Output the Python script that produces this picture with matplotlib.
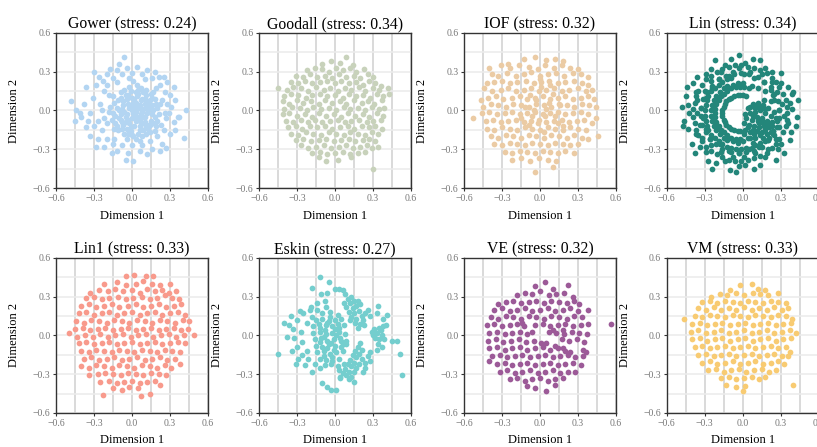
import numpy as np
import matplotlib.pyplot as plt

plt.rcParams['font.family'] = ['Liberation Serif', 'DejaVu Serif']

methods = ['Gower', 'Goodall', 'IOF', 'Lin', 'Lin1', 'Eskin', 'VE', 'VM']
stress = [0.24, 0.34, 0.32, 0.34, 0.33, 0.27, 0.32, 0.33]
colors = ['#b3d5f2', '#c8d2bb', '#ebcba4', '#23867a',
          '#f89a8c', '#74cece', '#9c5a98', '#f8cb72']

# MDS coordinates (Dimension 1, Dimension 2), in hundredths
gower = [
    (0,0),(5,2),(-4,-3),(8,-5),(2,8),(-7,4),(10,5),(-2,-10),(6,-12),(12,-2),(-10,-6),(3,14),
    (-5,12),(14,8),(-12,2),(9,-15),(-1,-16),(15,-8),(-8,-14),(4,-5),(-3,5),(11,12),(-9,10),
    (17,0),(-15,-2),(7,17),(-2,18),(13,-14),(-6,-18),(18,-5),(1,-2),(6,4),(-6,-1),(3,-8),(9,1),
    (-3,-7),(12,3),(0,10),(-10,0),(16,4),(5,-18),(-13,-10),(10,-9),(2,3),(-4,9),(7,-3),(14,-11),
    (-1,-13),(19,-12),(-14,6),(4,11),(-8,-9),(11,-18),(1,-20),(-11,-15),(8,9),(-6,16),(15,13),
    (20,2),(-16,-7),(2,-4),(-2,2),(6,-8),(13,0),(-7,7),(9,14),(-12,-12),(4,20),(18,9),(-17,3),
    (0,-6),(7,1),(-5,-5),(3,6),(10,-5),(-9,-3),(16,-3),(5,13),(-3,-18),(12,-11),(-1,15),(20,-8),
    (-14,-14),(8,-20),(-9,14),(17,14),(-18,-1),(1,23),(22,5),(-4,-22),
    (-1,4),(3,-1),(7,8),(-5,-9),(11,-13),(15,3),(-8,1),(2,-12),(9,-10),(-3,12),(13,6),(6,-15),
    (-11,8),(0,-19),(17,-10),(-7,-11),(5,16),(10,9),(-13,-4),(19,5),(8,-1),(-4,-14),(14,-17),
    (1,6),(-9,-7),(16,10),(3,-22),(11,16),(-15,11),(21,-3),
    (-22,15),(-25,5),(-27,-8),(-24,-15),(-20,-22),(-15,-26),(-8,-27),(0,-27),(8,-27),(14,-24),
    (20,-20),(25,-15),(27,-6),(28,5),(26,14),(22,20),(16,25),(8,28),(0,29),(-8,28),(-15,25),
    (-20,20),(-28,20),(-31,10),(-33,-2),(-30,-12),(-27,-22),(-22,-28),(-12,-31),(-3,-33),(6,-31),
    (16,-30),(24,-26),(30,-18),(33,-9),(31,3),(30,12),(28,22),(21,26),(12,31),(4,34),(-4,33),
    (-12,31),(-20,28),(-26,26),(-30,30),(-36,18),(-38,5),(-40,-5),(-36,-13),(-33,-20),(-28,-28),
    (-16,-33),(-5,-38),(1,-39),(12,-34),(22,-31),(27,-29),(34,-15),(36,-5),(34,8),(33,18),(25,26),
    (18,30),(-10,36),(-6,41),(-17,32),(-23,23),(-35,-8),(-44,0),(-45,-8),(-48,7),(-41,-2),(43,0),
    (41,-21),(37,-5),(29,-2),(-18,12),(-24,0),(-20,-10),(23,-11),(24,8),(19,17),(-12,22),(10,24),
    (-2,25),(-14,-22),(6,-24),(18,-16),(-22,-6),(26,-2)]

goodall = [
    (-10,36),(-3,38),(4,37),(9,41),(14,35),
    (-22,31),(-16,33),(-10,32),(-5,30),(1,33),(6,31),(12,33),(17,30),(23,32),
    (-31,27),(-25,26),(-20,28),(-14,26),(-8,27),(-2,25),(3,28),(9,26),(15,27),(20,25),(26,28),(30,26),
    (-35,22),(-29,21),(-24,23),(-18,21),(-12,22),(-6,23),(0,21),(5,23),(11,21),(17,22),(22,20),
    (27,23),(32,21),(36,19),
    (-45,17),(-38,16),(-33,18),(-27,17),(-21,15),(-15,18),(-9,16),(-4,17),(2,15),(8,17),(13,16),
    (19,18),(24,15),(30,17),(35,16),(42,17),
    (-40,11),(-35,13),(-29,12),(-23,10),(-18,12),(-12,13),(-6,11),(0,12),(6,10),(11,13),(17,11),
    (22,12),(28,10),(33,13),(38,11),(43,13),
    (-41,7),(-36,5),(-30,8),(-25,6),(-19,7),(-13,5),(-8,8),(-2,6),(4,7),(9,5),(15,8),(21,6),
    (26,7),(31,5),(37,8),
    (-40,1),(-34,3),(-28,2),(-22,0),(-17,3),(-11,1),(-5,2),(1,0),(7,3),(12,1),(18,2),(24,0),
    (29,3),(35,1),(39,2),
    (-41,-3),(-36,-2),(-30,-4),(-24,-3),(-18,-5),(-13,-2),(-7,-4),(-1,-3),(5,-5),(10,-2),(16,-4),
    (22,-3),(27,-5),(33,-2),(38,-4),
    (-39,-8),(-33,-9),(-27,-7),(-21,-9),(-16,-7),(-10,-9),(-4,-8),(2,-7),(8,-9),(13,-8),(19,-7),
    (25,-9),(30,-8),(36,-7),
    (-37,-13),(-31,-12),(-26,-14),(-20,-12),(-14,-13),(-8,-12),(-2,-14),(4,-13),(10,-12),(15,-14),
    (21,-12),(27,-13),(32,-12),(37,-14),
    (-35,-18),(-29,-19),(-23,-17),(-17,-18),(-11,-19),(-5,-17),(1,-18),(7,-19),(12,-17),(18,-18),
    (24,-19),(29,-17),(34,-18),
    (-31,-23),(-25,-22),(-19,-24),(-13,-23),(-7,-22),(-1,-24),(5,-23),(11,-22),(16,-24),(22,-23),
    (27,-22),(32,-24),
    (-27,-27),(-21,-29),(-15,-28),(-9,-27),(-3,-29),(3,-28),(9,-27),(14,-29),(20,-28),(25,-27),
    (29,-29),(34,-28),
    (-18,-33),(-12,-32),(-6,-34),(0,-33),(6,-32),(12,-34),(18,-33),(24,-32),
    (-13,-36),(-7,-39),(2,-38),(13,-36),(30,-45)]

iof = [
    (-25,36),(-13,40),(-4,41),(5,39),(12,40),(18,38),
    (-40,33),(-31,35),(-24,33),(-17,35),(-9,34),(-2,32),(4,35),(11,33),(17,35),(24,33),(30,32),
    (-38,28),(-33,27),(-26,29),(-19,27),(-13,28),(-7,30),(0,27),(6,28),(13,29),(19,27),(26,29),
    (32,28),(38,26),
    (-42,21),(-36,22),(-30,23),(-24,21),(-18,22),(-11,23),(-5,21),(1,22),(7,23),(14,21),(20,22),
    (27,23),(33,21),(38,20),
    (-44,17),(-38,15),(-31,16),(-25,17),(-19,15),(-13,16),(-7,17),(-1,15),(5,16),(11,17),(17,15),
    (23,16),(30,17),(36,15),(41,16),
    (-47,8),(-41,10),(-35,11),(-29,9),(-22,10),(-16,11),(-10,9),(-4,10),(2,11),(8,9),(14,10),
    (20,11),(26,9),(32,10),(38,11),(43,9),
    (-45,3),(-39,5),(-33,4),(-27,3),(-21,5),(-15,4),(-9,3),(-3,5),(3,4),(9,3),(15,5),(21,4),
    (27,3),(33,5),(39,4),(44,3),
    (-53,-6),(-46,-2),(-40,-1),(-34,-3),(-28,-2),(-22,-1),(-16,-3),(-10,-2),(-4,-1),(2,-3),(8,-2),
    (14,-1),(20,-3),(26,-2),(32,-1),(38,-3),(44,-6),
    (-43,-8),(-37,-7),(-31,-9),(-25,-8),(-19,-7),(-13,-9),(-7,-8),(-1,-7),(5,-9),(11,-8),(17,-7),
    (23,-9),(29,-8),(35,-7),(41,-10),
    (-42,-14),(-36,-15),(-30,-13),(-24,-14),(-18,-15),(-12,-13),(-6,-14),(0,-15),(6,-13),(12,-14),
    (18,-15),(24,-13),(30,-14),(36,-15),(46,-20),
    (-39,-20),(-33,-21),(-27,-19),(-21,-20),(-15,-21),(-9,-19),(-3,-20),(3,-21),(9,-19),(15,-20),
    (21,-21),(27,-19),(33,-21),(38,-22),
    (-36,-26),(-30,-27),(-24,-25),(-18,-26),(-12,-27),(-6,-25),(0,-26),(6,-27),(12,-25),(18,-26),
    (24,-27),(30,-26),
    (-28,-32),(-22,-33),(-16,-31),(-10,-32),(-4,-33),(2,-31),(8,-32),(14,-33),(20,-31),(27,-33),
    (-22,-38),(-15,-37),(-8,-39),(-1,-37),(6,-38),(13,-39),(-4,-48),(10,-44),
    (-3,8),(4,-4),(7,6),(-6,-4),(10,13),(-8,12),(12,-4),(1,18),(-2,-10),(16,4),(5,1),(-12,3),
    (3,-17),(14,-10),(-9,-11),(8,20),(-15,-6),(18,-12),(0,24),(-5,0)]

lin = [
    # outer band
    (-9,40),(-8,30),(-14,35),(-11,27),(-22,39),(-17,30),(-25,32),(-19,24),(-29,28),(-25,23),
    (-36,26),(-24,17),(-39,21),(-30,15),(-37,14),(-29,10),(-45,11),(-36,8),(-43,4),(-33,2),
    (-42,-2),(-36,-2),(-46,-8),(-31,-6),(-43,-14),(-34,-11),(-37,-18),(-29,-14),(-40,-26),(-32,-21),
    (-34,-28),(-26,-22),(-29,-32),(-25,-27),(-27,-39),(-18,-26),(-21,-41),(-17,-32),(-14,-39),(-11,-31),
    (-10,-46),(-8,-36),(-3,-43),(-3,-33),(2,-42),(1,-36),(9,-45),(5,-30),(14,-42),(10,-33),
    (18,-36),(13,-28),(26,-38),(20,-30),(28,-30),(20,-23),(30,-26),(26,-22),(37,-23),(24,-16),
    (38,-17),(29,-13),(36,-10),(27,-8),(43,-5),(33,-4),(39,1),(29,0),(37,6),(31,5),
    (39,13),(25,8),(36,18),(27,14),(30,21),(22,16),(30,29),(23,22),(23,30),(17,22),
    (18,33),(15,28),(14,39),(9,25),(8,40),(6,30),(2,37),(1,28),(-3,43),(-3,33),
    (-11,34),(-16,32),(-20,30),(-25,27),(-29,24),(-32,20),(-35,15),(-37,11),(-38,6),(-39,1),
    (-39,-5),(-38,-10),(-37,-15),(-35,-19),(-32,-24),(-29,-28),(-25,-31),(-20,-34),(-16,-36),
    (-11,-38),(-6,-39),(-1,-39),(4,-38),(9,-37),(14,-35),(19,-33),(23,-29),(26,-26),(29,-22),
    (32,-17),(34,-12),(35,-7),(35,-2),(35,3),(34,8),(32,13),(29,18),(26,22),(23,25),(19,29),
    (14,31),(9,33),(4,34),(-1,35),(-6,35),
    (-9,25),(-12,24),(-16,22),(-19,20),(-22,17),(-25,15),(-27,11),(-28,8),(-29,4),(-30,0),
    (-30,-4),(-29,-8),(-28,-12),(-27,-15),(-25,-19),(-22,-21),(-19,-24),(-16,-26),(-12,-28),
    (-9,-29),(-5,-30),(-1,-30),(3,-29),(7,-29),(10,-27),(14,-25),
    (-7,28),(-13,27),(-19,24),(-24,19),(-28,14),(-31,9),(-33,2),(-33,-4),(-32,-11),(-29,-17),
    (-26,-22),(-21,-26),(-16,-30),(-9,-32),(-3,-33),(3,-32),(9,-31),(15,-28),(20,-23),(24,-18),
    (27,-13),(29,-6),(29,0),(28,7),(25,13),(22,18),(17,22),(12,26),(5,28),(-1,29),
    (-48,3),(-47,-12),(-44,18),(-38,-33),(-24,-45),(-5,-48),(40,14),(44,8),(42,-12),(33,-33),
    # middle arm
    (5,17),(3,11),(1,18),(0,12),(-2,18),(-2,12),(-5,18),(-4,12),(-9,17),(-7,11),(-12,15),(-9,10),
    (-15,13),(-11,9),(-17,11),(-13,7),(-19,8),(-14,5),(-21,5),(-15,3),(-22,1),(-16,0),(-22,-2),
    (-16,-2),(-22,-5),(-16,-4),(-21,-9),(-15,-7),(-19,-12),(-14,-9),(-17,-15),(-13,-11),(-15,-17),
    (-11,-13),(-12,-19),(-9,-14),(-9,-21),(-7,-15),(-5,-22),(-4,-16),(-2,-22),(-2,-16),
    (0,21),(-4,21),(-8,20),(-12,19),(-15,17),(-18,14),(-21,11),(-23,8),(-24,4),(-25,0),
    (-25,-4),(-24,-8),(-23,-12),(-21,-15),(-18,-18),(-15,-21),(-12,-23),(-8,-24),(-4,-25),
    # core
    (4,2),(8,5),(12,6),(16,4),(20,2),(6,-2),(10,-1),(14,0),(18,-2),(22,-4),(3,-6),(7,-7),(11,-5),
    (15,-6),(19,-8),(23,-9),(5,-11),(9,-12),(13,-10),(17,-12),(21,-13),(2,-15),(6,-17),(11,-16),
    (15,-17),(19,-18),(24,-16),(17,8),(22,7),(1,-10),(25,-1),(16,-21),(10,-21),(4,-21),(21,-21),
    (6,3),(10,2),(14,3),(18,1),(2,-3),(8,-4),(12,-8),(16,-9),(20,-10),(4,-13),(8,-15),(13,-13),
    (18,-15),(23,-12),(26,-6),(1,-18),(9,-18),(14,-19),(22,-17),(6,-21),(12,4),(25,-19),(18,-24),
    (8,-25),(0,-24),(12,17),(18,15),(24,12),(7,19)]

lin1 = [
    (-5,46),(2,47),(11,46),(17,46),
    (-22,40),(-12,41),(-5,39),(3,40),(9,42),(16,40),(22,39),(30,40),
    (-33,33),(-26,35),(-19,34),(-13,36),(-7,34),(0,35),(6,33),(12,36),(18,34),(24,35),(29,33),(35,34),
    (-36,29),(-30,30),(-24,28),(-18,29),(-11,30),(-5,28),(1,29),(8,30),(14,28),(20,29),(26,31),
    (32,29),(37,28),
    (-40,23),(-34,24),(-28,22),(-22,23),(-16,24),(-10,22),(-3,23),(3,24),(9,22),(15,23),(21,24),
    (27,22),(33,23),(39,24),
    (-42,17),(-36,18),(-30,16),(-24,17),(-18,18),(-12,16),(-6,17),(0,18),(6,16),(12,17),(18,18),
    (24,16),(30,17),(36,18),(42,16),
    (-44,11),(-38,10),(-32,12),(-26,11),(-20,10),(-14,12),(-8,11),(-2,10),(4,12),(10,11),(16,10),
    (22,12),(28,11),(34,10),(40,12),(45,11),
    (-45,5),(-39,6),(-33,4),(-27,5),(-21,6),(-15,4),(-9,5),(-3,6),(3,4),(9,5),(15,6),(21,4),
    (27,5),(33,6),(39,4),(44,5),
    (-50,2),(-43,-1),(-37,0),(-31,-1),(-25,1),(-19,-1),(-13,0),(-7,1),(-1,-1),(5,0),(11,1),
    (17,-1),(23,0),(29,1),(35,-1),(41,0),(49,0),
    (-42,-6),(-36,-5),(-30,-7),(-24,-6),(-18,-5),(-12,-7),(-6,-6),(0,-5),(6,-7),(12,-6),(18,-5),
    (24,-7),(30,-6),(36,-5),(42,-6),
    (-40,-12),(-34,-13),(-28,-11),(-22,-12),(-16,-13),(-10,-11),(-4,-12),(2,-13),(8,-11),(14,-12),
    (20,-13),(26,-11),(32,-12),(38,-13),
    (-38,-18),(-32,-17),(-26,-19),(-20,-18),(-14,-17),(-8,-19),(-2,-18),(4,-17),(10,-19),(16,-18),
    (22,-17),(28,-19),(34,-18),(38,-22),
    (-40,-24),(-34,-25),(-28,-23),(-22,-24),(-16,-25),(-10,-23),(-4,-24),(2,-25),(8,-23),(14,-24),
    (20,-25),(26,-23),(31,-25),
    (-34,-31),(-27,-30),(-21,-29),(-15,-30),(-9,-31),(-3,-29),(3,-30),(9,-31),(15,-29),(21,-30),
    (27,-31),
    (-25,-36),(-18,-35),(-12,-37),(-6,-36),(0,-35),(6,-37),(12,-36),(18,-35),(22,-38),
    (-15,-41),(-8,-42),(-2,-40),(5,-41),(-23,-46),(7,-47),(14,-45)]

eskin = [
    # main blob
    (-10,17),(-4,18),(2,16),(-14,20),(-7,22),(-15,12),(-10,13),(-5,11),(0,12),(5,13),(-18,14),
    (-17,7),(-12,6),(-7,8),(-2,7),(3,6),(7,8),(-17,2),(-12,3),(-7,1),(-2,2),(3,3),(8,1),
    (-16,-3),(-11,-2),(-6,-4),(-1,-3),(4,-2),(9,-4),(-15,-8),(-10,-9),(-5,-7),(0,-8),(5,-9),(9,-7),
    (-14,-13),(-9,-12),(-4,-14),(1,-13),(6,-12),(-12,-18),(-7,-19),(-2,-17),(3,-18),
    (-8,-23),(-3,-22),(2,-24),(-8,4),(-3,-6),(0,5),(-12,-5),(5,-4),(-6,10),(-1,-11),(-9,-16),
    (-4,14),(2,9),(-9,-1),(6,-7),(-2,-20),(-13,9),(1,0),(-6,-10),
    # left halo
    (-20,20),(-25,17),(-30,12),(-33,5),(-32,-2),(-30,-9),(-26,-15),(-21,-18),(-16,-22),(-22,10),
    (-27,3),(-26,-5),(-22,-12),(-36,8),(-38,-1),(-34,-12),(-29,-18),(-24,-23),(-12,-25),(-18,-28),
    (-40,10),(-35,15),(-28,19),(-31,-22),(-45,-14),(-19,22),(-14,25),(-8,27),
    # top
    (-12,45),(-5,41),(-18,37),(-11,32),(-6,33),(0,36),(3,36),(6,35),
    # upper right cluster
    (8,32),(10,28),(13,30),(12,25),(15,27),(9,22),(14,21),(17,23),(11,18),(15,17),(19,19),(13,14),
    (17,13),(21,15),(16,10),(20,9),(18,6),(22,12),(24,17),(26,20),(20,24),(23,8),(12,12),(7,25),
    (18,27),(28,15),
    # lower right cluster
    (20,-6),(18,-9),(21,-11),(16,-12),(19,-14),(14,-15),(17,-17),(21,-18),(12,-19),(15,-21),
    (19,-22),(10,-22),(13,-24),(17,-25),(8,-26),(11,-28),(15,-28),(6,-29),(9,-31),(4,-32),(13,-32),
    (24,-21),(26,-16),(24,-25),(22,-28),(3,-27),(7,-22),(28,-13),
    # bottom
    (-10,-37),(-6,-40),(-3,-42),(1,-42),(4,-33),(15,-36),(11,-34),
    # far right cluster
    (31,5),(33,2),(35,6),(32,-2),(35,-3),(37,0),(34,-7),(37,-9),(33,-11),(39,-3),(36,4),(30,0),
    (38,7),(40,8),(34,23),(33,17),(41,16),(38,13),(45,-4),(49,-4),(51,-14),(53,-31),(28,-20),(29,3)]

ve = [
    (-4,38),(4,41),(10,36),(22,39),
    (-18,31),(-12,33),(-6,32),(0,34),(7,31),(13,32),(19,33),(26,30),
    (-33,24),(-27,26),(-21,27),(-15,25),(-9,26),(-3,27),(3,25),(9,27),(15,26),(21,25),(27,27),(31,24),
    (-36,20),(-30,21),(-24,19),(-18,20),(-12,21),(-6,19),(0,20),(6,21),(12,19),(18,20),(24,21),
    (30,19),(38,20),
    (-39,14),(-33,13),(-27,15),(-21,14),(-15,13),(-9,15),(-3,14),(3,13),(9,15),(15,14),(21,13),
    (27,15),(33,14),
    (-42,8),(-36,9),(-30,7),(-24,8),(-18,9),(-13,7),(-4,8),(2,9),(8,7),(14,8),(20,9),(26,7),
    (32,8),(38,9),(56,9),
    (-40,2),(-34,3),(-28,1),(-22,2),(-16,3),(-10,1),(7,3),(13,2),(19,1),(25,3),(31,2),(37,1),
    (-41,-4),(-35,-3),(-29,-5),(-23,-4),(-17,-3),(-11,-5),(-5,-4),(1,-6),(17,-3),(23,-4),(29,-3),
    (35,-5),
    (-40,-10),(-34,-9),(-28,-11),(-22,-10),(-16,-9),(-10,-11),(-4,-10),(2,-9),(8,-11),(14,-10),
    (20,-12),(34,-11),(36,-13),
    (-38,-16),(-32,-15),(-26,-17),(-20,-16),(-14,-15),(-8,-17),(-2,-16),(4,-15),(10,-17),(16,-16),
    (22,-15),(28,-17),(34,-16),
    (-40,-20),(-34,-22),(-28,-21),(-22,-23),(-16,-22),(-10,-21),(-4,-23),(2,-22),(8,-21),(14,-23),
    (20,-22),(26,-21),(32,-23),
    (-32,-28),(-26,-27),(-20,-29),(-14,-28),(-8,-27),(-2,-29),(4,-28),(10,-27),(16,-29),(22,-28),
    (28,-28),
    (-24,-34),(-18,-33),(-12,-35),(-6,-34),(0,-33),(6,-35),(12,-34),(18,-33),
    (-10,-39),(-4,-41),(5,-43),(12,-38),
    (5,-6),(12,-8),(18,-10),(24,-13),(10,4),(18,4),(-14,10),(-6,3)]

vm = [
    (-10,35),(-2,39),(7,40),(12,36),(18,35),
    (-25,30),(-18,32),(-12,31),(-5,33),(1,31),(8,33),(14,32),(20,31),(28,33),
    (-32,26),(-26,27),(-20,25),(-14,27),(-8,26),(-2,25),(4,27),(10,26),(16,25),(22,27),(28,26),(34,25),
    (-35,21),(-29,20),(-23,22),(-17,20),(-11,21),(-5,20),(1,22),(7,20),(13,21),(19,20),(25,22),
    (31,20),(36,21),
    (-38,15),(-32,14),(-26,16),(-20,15),(-14,14),(-8,16),(-2,15),(4,14),(10,16),(16,15),(22,14),
    (28,16),(34,15),(39,13),
    (-46,13),(-40,9),(-34,10),(-28,8),(-22,9),(-16,10),(-10,8),(-4,9),(2,10),(8,8),(14,9),(20,10),
    (26,8),(32,9),(38,10),
    (-41,3),(-35,4),(-29,2),(-23,3),(-17,4),(-11,2),(-5,3),(1,4),(7,2),(13,3),(19,4),(25,2),
    (31,3),(37,4),(42,2),
    (-40,-3),(-34,-2),(-28,-4),(-22,-3),(-16,-2),(-10,-4),(-4,-3),(2,-2),(8,-4),(14,-3),(20,-2),
    (26,-4),(32,-3),(38,-2),
    (-38,-9),(-32,-8),(-26,-10),(-20,-9),(-14,-8),(-8,-10),(-2,-9),(4,-8),(10,-10),(16,-9),(22,-8),
    (28,-10),(34,-9),(37,-13),
    (-35,-15),(-29,-14),(-23,-16),(-17,-15),(-11,-14),(-5,-16),(1,-15),(7,-14),(13,-16),(19,-15),
    (25,-14),(31,-16),(36,-16),
    (-32,-21),(-26,-20),(-20,-22),(-14,-21),(-8,-20),(-2,-22),(4,-21),(10,-20),(16,-22),(22,-21),
    (28,-20),(33,-22),
    (-27,-27),(-21,-26),(-15,-28),(-9,-27),(-3,-26),(3,-28),(9,-27),(15,-26),(21,-28),(26,-27),
    (-17,-33),(-11,-32),(-5,-34),(1,-33),(7,-32),(13,-34),(18,-32),
    (-13,-38),(-5,-40),(2,-39),(0,-43),(40,-38)]

points = [gower, goodall, iof, lin, lin1, eskin, ve, vm]

fig = plt.figure(figsize=(8.17, 4.47), dpi=100)
lefts = [0.0685, 0.317, 0.568, 0.816]
bottoms = [0.5794, 0.0761]
ticks = [-0.6, -0.3, 0.0, 0.3, 0.6]
minor = [-0.45, -0.15, 0.15, 0.45]

for i, name in enumerate(methods):
    ax = fig.add_axes([lefts[i % 4], bottoms[i // 4], 0.186, 0.347])
    p = np.array(points[i]) / 100
    ax.scatter(p[:, 0], p[:, 1], s=17, color=colors[i], linewidths=0, zorder=3)
    ax.set_xlim(-0.6, 0.6)
    ax.set_ylim(-0.6, 0.6)
    ax.set_xticks(ticks)
    ax.set_yticks(ticks)
    ax.set_xticks(minor, minor=True)
    ax.set_yticks(minor, minor=True)
    ax.grid(axis='x', which='both', color='#cfcfcf', lw=1.1)
    ax.grid(axis='y', which='both', color='#ebebeb', lw=1.1)
    ax.set_axisbelow(True)
    ax.tick_params(which='minor', length=0)
    ax.tick_params(which='major', labelsize=7, labelcolor='#777777', length=2.5,
                   width=0.8, color='#333333', pad=1.5)
    for s in ax.spines.values():
        s.set_color('#333333')
        s.set_linewidth(1.0)
    ax.set_title(f'{name} (stress: {stress[i]:.2f})', fontsize=11.3, pad=3)
    ax.set_xlabel('Dimension 1', fontsize=9, labelpad=5)
    ax.set_ylabel('Dimension 2', fontsize=9, labelpad=9)

fig.savefig('out.png', dpi=100)
